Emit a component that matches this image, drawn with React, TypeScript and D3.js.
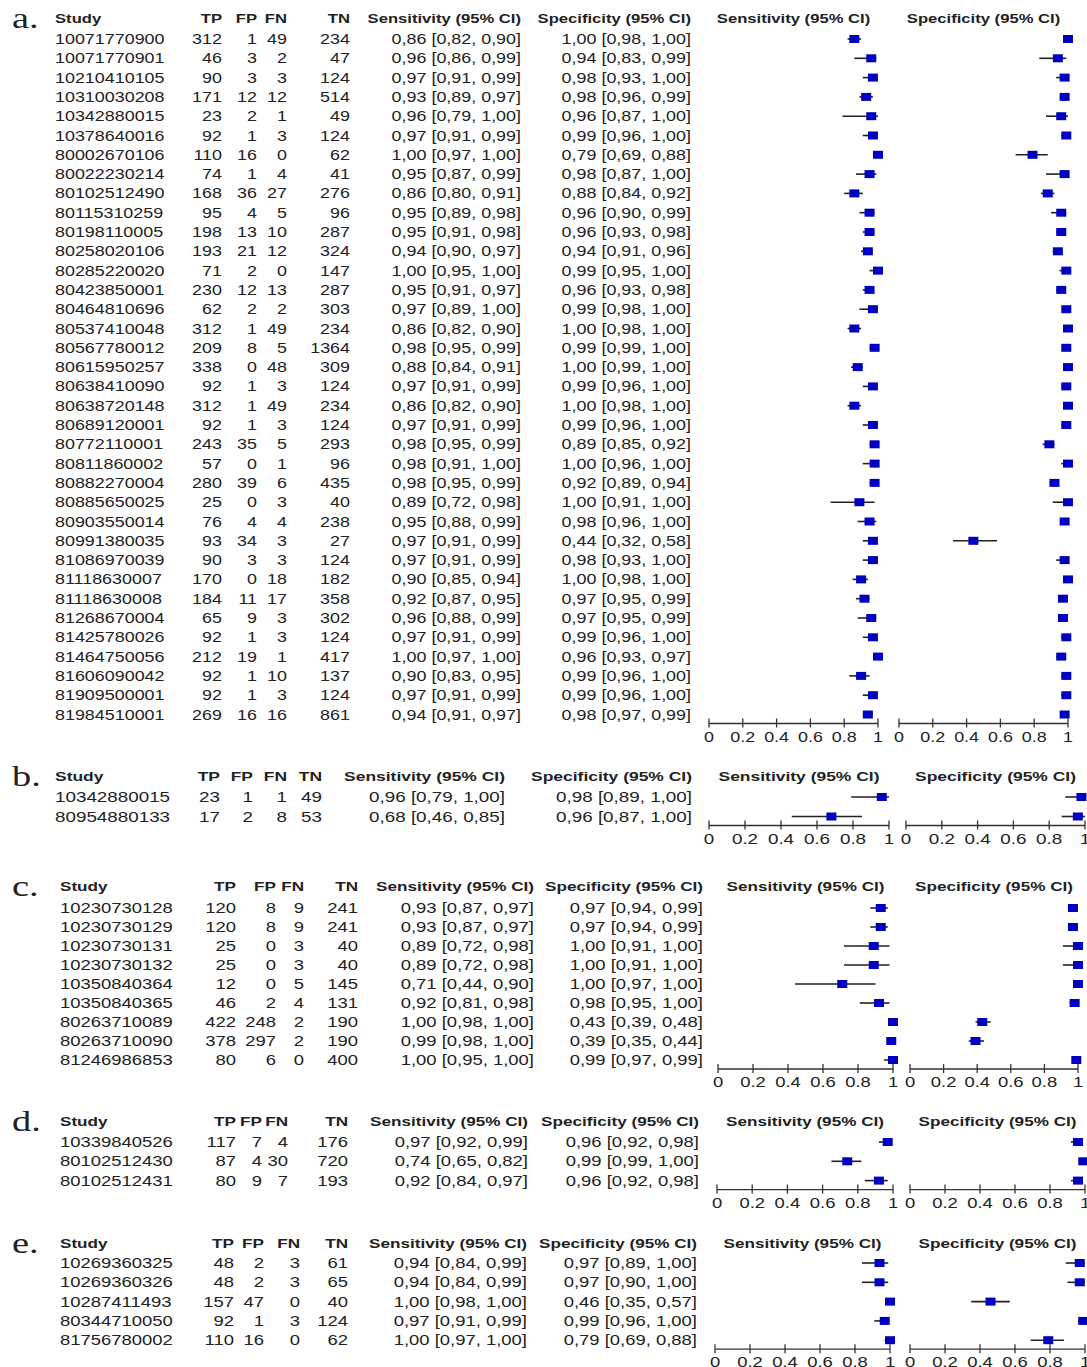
import * as d3 from 'd3';

// [study, TP, FP, FN, TN, sens, sensLo, sensHi, spec, specLo, specHi]
type Row = [string, number, number, number, number, number, number, number, number, number, number];

const panelLabels = ['a.', 'b.', 'c.', 'd.', 'e.'];
const colHeaders = ['Study', 'TP', 'FP', 'FN', 'TN', 'Sensitivity (95% CI)', 'Specificity (95% CI)'];
const axisTicks = [0, 0.2, 0.4, 0.6, 0.8, 1];

const rowsA: Row[] = [
  ['10071770900', 312, 1, 49, 234, 0.86, 0.82, 0.9, 1.0, 0.98, 1.0],
  ['10071770901', 46, 3, 2, 47, 0.96, 0.86, 0.99, 0.94, 0.83, 0.99],
  ['10210410105', 90, 3, 3, 124, 0.97, 0.91, 0.99, 0.98, 0.93, 1.0],
  ['10310030208', 171, 12, 12, 514, 0.93, 0.89, 0.97, 0.98, 0.96, 0.99],
  ['10342880015', 23, 2, 1, 49, 0.96, 0.79, 1.0, 0.96, 0.87, 1.0],
  ['10378640016', 92, 1, 3, 124, 0.97, 0.91, 0.99, 0.99, 0.96, 1.0],
  ['80002670106', 110, 16, 0, 62, 1.0, 0.97, 1.0, 0.79, 0.69, 0.88],
  ['80022230214', 74, 1, 4, 41, 0.95, 0.87, 0.99, 0.98, 0.87, 1.0],
  ['80102512490', 168, 36, 27, 276, 0.86, 0.8, 0.91, 0.88, 0.84, 0.92],
  ['80115310259', 95, 4, 5, 96, 0.95, 0.89, 0.98, 0.96, 0.9, 0.99],
  ['80198110005', 198, 13, 10, 287, 0.95, 0.91, 0.98, 0.96, 0.93, 0.98],
  ['80258020106', 193, 21, 12, 324, 0.94, 0.9, 0.97, 0.94, 0.91, 0.96],
  ['80285220020', 71, 2, 0, 147, 1.0, 0.95, 1.0, 0.99, 0.95, 1.0],
  ['80423850001', 230, 12, 13, 287, 0.95, 0.91, 0.97, 0.96, 0.93, 0.98],
  ['80464810696', 62, 2, 2, 303, 0.97, 0.89, 1.0, 0.99, 0.98, 1.0],
  ['80537410048', 312, 1, 49, 234, 0.86, 0.82, 0.9, 1.0, 0.98, 1.0],
  ['80567780012', 209, 8, 5, 1364, 0.98, 0.95, 0.99, 0.99, 0.99, 1.0],
  ['80615950257', 338, 0, 48, 309, 0.88, 0.84, 0.91, 1.0, 0.99, 1.0],
  ['80638410090', 92, 1, 3, 124, 0.97, 0.91, 0.99, 0.99, 0.96, 1.0],
  ['80638720148', 312, 1, 49, 234, 0.86, 0.82, 0.9, 1.0, 0.98, 1.0],
  ['80689120001', 92, 1, 3, 124, 0.97, 0.91, 0.99, 0.99, 0.96, 1.0],
  ['80772110001', 243, 35, 5, 293, 0.98, 0.95, 0.99, 0.89, 0.85, 0.92],
  ['80811860002', 57, 0, 1, 96, 0.98, 0.91, 1.0, 1.0, 0.96, 1.0],
  ['80882270004', 280, 39, 6, 435, 0.98, 0.95, 0.99, 0.92, 0.89, 0.94],
  ['80885650025', 25, 0, 3, 40, 0.89, 0.72, 0.98, 1.0, 0.91, 1.0],
  ['80903550014', 76, 4, 4, 238, 0.95, 0.88, 0.99, 0.98, 0.96, 1.0],
  ['80991380035', 93, 34, 3, 27, 0.97, 0.91, 0.99, 0.44, 0.32, 0.58],
  ['81086970039', 90, 3, 3, 124, 0.97, 0.91, 0.99, 0.98, 0.93, 1.0],
  ['81118630007', 170, 0, 18, 182, 0.9, 0.85, 0.94, 1.0, 0.98, 1.0],
  ['81118630008', 184, 11, 17, 358, 0.92, 0.87, 0.95, 0.97, 0.95, 0.99],
  ['81268670004', 65, 9, 3, 302, 0.96, 0.88, 0.99, 0.97, 0.95, 0.99],
  ['81425780026', 92, 1, 3, 124, 0.97, 0.91, 0.99, 0.99, 0.96, 1.0],
  ['81464750056', 212, 19, 1, 417, 1.0, 0.97, 1.0, 0.96, 0.93, 0.97],
  ['81606090042', 92, 1, 10, 137, 0.9, 0.83, 0.95, 0.99, 0.96, 1.0],
  ['81909500001', 92, 1, 3, 124, 0.97, 0.91, 0.99, 0.99, 0.96, 1.0],
  ['81984510001', 269, 16, 16, 861, 0.94, 0.91, 0.97, 0.98, 0.97, 0.99],
];

const rowsB: Row[] = [
  ['10342880015', 23, 1, 1, 49, 0.96, 0.79, 1.0, 0.98, 0.89, 1.0],
  ['80954880133', 17, 2, 8, 53, 0.68, 0.46, 0.85, 0.96, 0.87, 1.0],
];

const rowsC: Row[] = [
  ['10230730128', 120, 8, 9, 241, 0.93, 0.87, 0.97, 0.97, 0.94, 0.99],
  ['10230730129', 120, 8, 9, 241, 0.93, 0.87, 0.97, 0.97, 0.94, 0.99],
  ['10230730131', 25, 0, 3, 40, 0.89, 0.72, 0.98, 1.0, 0.91, 1.0],
  ['10230730132', 25, 0, 3, 40, 0.89, 0.72, 0.98, 1.0, 0.91, 1.0],
  ['10350840364', 12, 0, 5, 145, 0.71, 0.44, 0.9, 1.0, 0.97, 1.0],
  ['10350840365', 46, 2, 4, 131, 0.92, 0.81, 0.98, 0.98, 0.95, 1.0],
  ['80263710089', 422, 248, 2, 190, 1.0, 0.98, 1.0, 0.43, 0.39, 0.48],
  ['80263710090', 378, 297, 2, 190, 0.99, 0.98, 1.0, 0.39, 0.35, 0.44],
  ['81246986853', 80, 6, 0, 400, 1.0, 0.95, 1.0, 0.99, 0.97, 0.99],
];

const rowsD: Row[] = [
  ['10339840526', 117, 7, 4, 176, 0.97, 0.92, 0.99, 0.96, 0.92, 0.98],
  ['80102512430', 87, 4, 30, 720, 0.74, 0.65, 0.82, 0.99, 0.99, 1.0],
  ['80102512431', 80, 9, 7, 193, 0.92, 0.84, 0.97, 0.96, 0.92, 0.98],
];

const rowsE: Row[] = [
  ['10269360325', 48, 2, 3, 61, 0.94, 0.84, 0.99, 0.97, 0.89, 1.0],
  ['10269360326', 48, 2, 3, 65, 0.94, 0.84, 0.99, 0.97, 0.9, 1.0],
  ['10287411493', 157, 47, 0, 40, 1.0, 0.98, 1.0, 0.46, 0.35, 0.57],
  ['80344710050', 92, 1, 3, 124, 0.97, 0.91, 0.99, 0.99, 0.96, 1.0],
  ['81756780002', 110, 16, 0, 62, 1.0, 0.97, 1.0, 0.79, 0.69, 0.88],
];

const panelRows = [rowsA, rowsB, rowsC, rowsD, rowsE];

// the source screenshots differ a bit in scale, so each panel gets its own geometry
const layouts = [
  { k: 1, headerY: 18, rowY0: 39, step: 19.3, studyX: 55, cols: [222, 257, 287, 350, 521, 691], sens: [709, 878], spec: [899, 1068] },
  { k: 1.05, headerY: 776, rowY0: 797, step: 19.5, studyX: 55, cols: [220, 253, 287, 322, 505, 692], sens: [709, 889], spec: [906, 1085] },
  { k: 1.03, headerY: 886, rowY0: 908, step: 19, studyX: 60, cols: [236, 276, 304, 358, 534, 703], sens: [718, 893], spec: [910, 1078] },
  { k: 1.03, headerY: 1121, rowY0: 1142, step: 19.3, studyX: 60, cols: [236, 262, 288, 348, 528, 699], sens: [717, 893], spec: [910, 1085] },
  { k: 1.03, headerY: 1243, rowY0: 1263, step: 19.3, studyX: 60, cols: [234, 264, 300, 348, 527, 697], sens: [715, 890], spec: [910, 1085] },
];

const SX = 1.28; // the original is stretched horizontally
const FONT = 'Liberation Sans, Arial, sans-serif';
const INK = '#222';
const BLUE = '#0000c0';

const f2 = d3.format('.2f');
const comma = (v: number) => f2(v).replace('.', ',');
const ci = (e: number, lo: number, hi: number) => `${comma(e)} [${comma(lo)}, ${comma(hi)}]`;

function T({ x, y, anchor = 'start', size = 14, bold = false, family = FONT, children }: any) {
  return (
    <text
      transform={`translate(${x},${y}) scale(${SX},1)`}
      textAnchor={anchor}
      fontSize={size}
      fontWeight={bold ? 'bold' : 'normal'}
      fontFamily={family}
      fill={INK}
    >
      {children}
    </text>
  );
}

function Forest({ range, rows, idx, rowY, axisY, title, headerY, k }: any) {
  const x = d3.scaleLinear().domain([0, 1]).range(range);
  return (
    <g>
      <T x={(range[0] + range[1]) / 2} y={headerY + 5} anchor="middle" size={13 * k} bold>
        {title}
      </T>
      {rows.map((r: Row, i: number) => (
        <g key={i}>
          <line x1={x(r[idx + 1])} x2={x(r[idx + 2])} y1={rowY(i)} y2={rowY(i)} stroke={INK} strokeWidth={1.6} />
          <rect x={x(r[idx]) - 5} y={rowY(i) - 4} width={10} height={8} fill={BLUE} />
        </g>
      ))}
      <line x1={x(0)} x2={x(1)} y1={axisY} y2={axisY} stroke="#333" strokeWidth={1.3} />
      {axisTicks.map((t) => (
        <g key={t}>
          <line x1={x(t)} x2={x(t)} y1={axisY - 5} y2={axisY + 4} stroke="#333" strokeWidth={1.3} />
          <T x={x(t)} y={axisY + 18} anchor="middle" size={14 * k}>
            {String(t)}
          </T>
        </g>
      ))}
    </g>
  );
}

function Panel({ p }: { p: number }) {
  const L = layouts[p];
  const rows = panelRows[p];
  const rowY = (i: number) => L.rowY0 + i * L.step;
  const axisY = rowY(rows.length - 1) + 9;
  return (
    <g>
      <T x={12} y={L.headerY + 10} size={30} family="Liberation Serif, Times New Roman, serif">
        {panelLabels[p]}
      </T>
      <T x={L.studyX} y={L.headerY + 5} size={13 * L.k} bold>
        {colHeaders[0]}
      </T>
      {L.cols.map((cx, j) => (
        <T key={j} x={cx} y={L.headerY + 5} anchor="end" size={13 * L.k} bold>
          {colHeaders[j + 1]}
        </T>
      ))}
      {rows.map((r, i) => {
        const y = rowY(i) + 5;
        const cells = [String(r[1]), String(r[2]), String(r[3]), String(r[4]), ci(r[5], r[6], r[7]), ci(r[8], r[9], r[10])];
        return (
          <g key={i}>
            <T x={L.studyX} y={y} size={14 * L.k}>
              {r[0]}
            </T>
            {cells.map((c, j) => (
              <T key={j} x={L.cols[j]} y={y} anchor="end" size={14 * L.k}>
                {c}
              </T>
            ))}
          </g>
        );
      })}
      <Forest range={L.sens} rows={rows} idx={5} rowY={rowY} axisY={axisY} title={colHeaders[5]} headerY={L.headerY} k={L.k} />
      <Forest range={L.spec} rows={rows} idx={8} rowY={rowY} axisY={axisY} title={colHeaders[6]} headerY={L.headerY} k={L.k} />
    </g>
  );
}

export default function App() {
  return (
    <svg
      width={1087}
      height={1367}
      style={{ position: 'absolute', left: 0, top: 0, background: '#fff', display: 'block' }}
    >
      {panelLabels.map((_, p) => (
        <Panel key={p} p={p} />
      ))}
    </svg>
  );
}
